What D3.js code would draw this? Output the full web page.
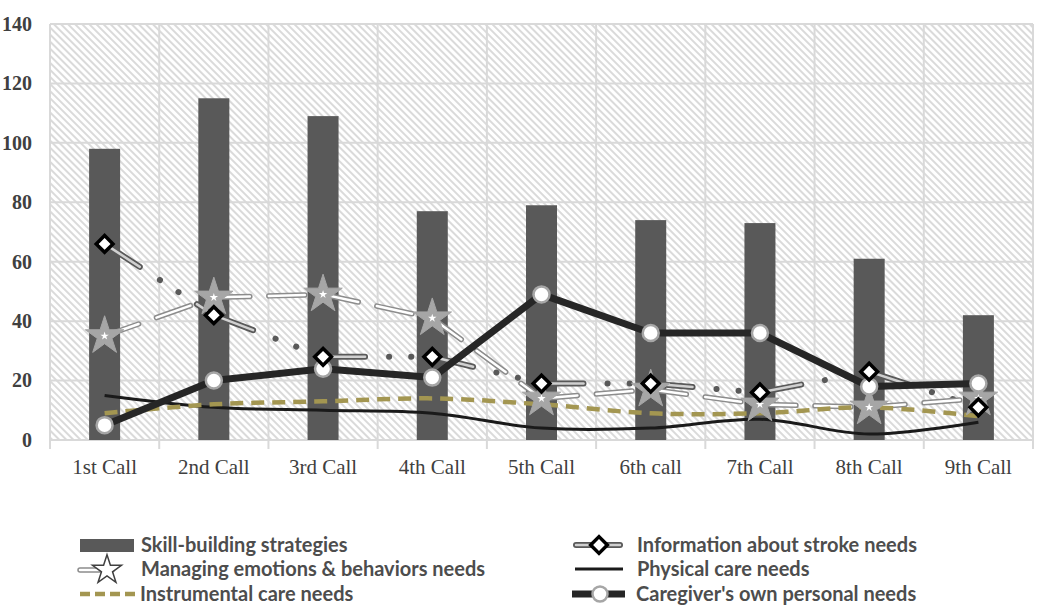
<!DOCTYPE html>
<html>
<head>
<meta charset="utf-8">
<script src="https://cdn.jsdelivr.net/npm/d3@7"></script>
<style>
  html, body { margin: 0; padding: 0; background: #fff; }
  svg { display: block; }
</style>
</head>
<body>
<svg id="chart" width="1050" height="610"></svg>
<script>
// ---------- DATA ----------
const categories = ["1st Call", "2nd Call", "3rd Call", "4th Call", "5th Call", "6th call", "7th Call", "8th Call", "9th Call"];
const skillBuilding = [98, 115, 109, 77, 79, 74, 73, 61, 42];
const infoStroke = [66, 42, 28, 28, 19, 19, 16, 23, 11];
const managingEmotions = [35, 48, 49, 41, 14, 17, 12, 11, 14];
const physicalCare = [15, 11, 10, 9, 4, 4, 7, 2, 6];
const instrumentalCare = [9, 12, 13, 14, 12, 9, 9, 11, 8];
const caregiverOwn = [5, 20, 24, 21, 49, 36, 36, 18, 19];
const yTicks = [0, 20, 40, 60, 80, 100, 120, 140];
const legendLabels = {
  skill: "Skill-building strategies",
  info: "Information about stroke needs",
  managing: "Managing emotions & behaviors needs",
  physical: "Physical care needs",
  instrumental: "Instrumental care needs",
  caregiver: "Caregiver's own personal needs"
};

// ---------- SETUP ----------
const svg = d3.select("#chart");
const plot = { left: 50, right: 1033, top: 24, bottom: 440 };

const x = d3.scaleBand().domain(categories).range([plot.left, plot.right]).paddingInner(0).paddingOuter(0);
const y = d3.scaleLinear().domain([0, 140]).range([plot.bottom, plot.top]);
const cx = c => x(c) + x.bandwidth() / 2;

const defs = svg.append("defs");
const pat = defs.append("pattern")
  .attr("id", "hatch").attr("patternUnits", "userSpaceOnUse")
  .attr("width", 5).attr("height", 5)
  .attr("patternTransform", "rotate(-45)");
pat.append("rect").attr("width", 5).attr("height", 5).attr("fill", "#ffffff");
pat.append("line").attr("x1", 1).attr("x2", 1).attr("y1", 0).attr("y2", 5)
  .attr("stroke", "#d6d6d6").attr("stroke-width", 1.8);

// plot background
svg.append("rect")
  .attr("x", plot.left).attr("y", plot.top)
  .attr("width", plot.right - plot.left).attr("height", plot.bottom - plot.top)
  .attr("fill", "url(#hatch)");

// horizontal gridlines
svg.append("g").selectAll("line").data(yTicks).join("line")
  .attr("x1", plot.left).attr("x2", plot.right)
  .attr("y1", d => y(d)).attr("y2", d => y(d))
  .attr("stroke", "#d9d9d9").attr("stroke-width", 2);

// vertical category separators
const bounds = categories.map(c => x(c)).concat([plot.right]);
svg.append("g").selectAll("line").data(bounds).join("line")
  .attr("x1", d => d).attr("x2", d => d)
  .attr("y1", plot.top).attr("y2", plot.bottom + 9)
  .attr("stroke", "#d9d9d9").attr("stroke-width", 2);

// y axis labels
const yAxis = d3.axisLeft(y).tickValues(yTicks).tickSize(0).tickPadding(0);
const gy = svg.append("g").attr("transform", `translate(${plot.left - 18},0)`).call(yAxis);
gy.select(".domain").remove();
gy.selectAll("text")
  .attr("font-family", "'Liberation Serif', 'Times New Roman', serif")
  .attr("font-size", 20).attr("font-weight", "bold").attr("fill", "#404040");

// x axis labels
const xAxis = d3.axisBottom(x).tickSize(0).tickPadding(0);
const gx = svg.append("g").attr("transform", `translate(0,${plot.bottom + 18})`).call(xAxis);
gx.select(".domain").remove();
gx.selectAll("text")
  .attr("font-family", "'Liberation Serif', 'Times New Roman', serif")
  .attr("font-size", 21).attr("fill", "#404040").attr("dy", "0.78em");

// bars
const barW = 31;
svg.append("g").selectAll("rect").data(skillBuilding).join("rect")
  .attr("x", (d, i) => cx(categories[i]) - barW / 2)
  .attr("width", barW)
  .attr("y", d => y(d))
  .attr("height", d => y(0) - y(d))
  .attr("fill", "#595959");

// helpers
const pts = arr => arr.map((v, i) => [cx(categories[i]), y(v)]);
const segs = arr => { const p = pts(arr); const out = []; for (let i = 0; i < p.length - 1; i++) out.push([p[i], p[i + 1]]); return out; };
const line = d3.line();
const smooth = d3.line().curve(d3.curveCatmullRom.alpha(0.5));

const lines = svg.append("g");

// Information about stroke needs: long dash dot dot, double gray
const infoSegs = segs(infoStroke);
lines.append("g").selectAll("path").data(infoSegs).join("path")
  .attr("d", d => line(d)).attr("fill", "none")
  .attr("stroke", "#595959").attr("stroke-width", 6).attr("stroke-linecap", "round")
  .attr("stroke-dasharray", "42 24 0.1 22 0.1 22");
lines.append("g").selectAll("path").data(infoSegs).join("path")
  .attr("d", d => line(d)).attr("fill", "none")
  .attr("stroke", "#d0d0d0").attr("stroke-width", 2.5).attr("stroke-linecap", "round")
  .attr("stroke-dasharray", "42 68.2");

// Managing emotions: long dash, double light gray
const manSegs = segs(managingEmotions);
lines.append("g").selectAll("path").data(manSegs).join("path")
  .attr("d", d => line(d)).attr("fill", "none")
  .attr("stroke", "#8c8c8c").attr("stroke-width", 5.5).attr("stroke-linecap", "round")
  .attr("stroke-dasharray", "36 19");
lines.append("g").selectAll("path").data(manSegs).join("path")
  .attr("d", d => line(d)).attr("fill", "none")
  .attr("stroke", "#ffffff").attr("stroke-width", 2.5).attr("stroke-linecap", "round")
  .attr("stroke-dasharray", "36 19");

// Physical care: thin black smooth
lines.append("path").attr("d", smooth(pts(physicalCare)))
  .attr("fill", "none").attr("stroke", "#1a1a1a").attr("stroke-width", 3);

// Instrumental care: olive dashed smooth
lines.append("path").attr("d", smooth(pts(instrumentalCare)))
  .attr("fill", "none").attr("stroke", "#a39651").attr("stroke-width", 4.5)
  .attr("stroke-dasharray", "13 8");

// Caregiver's own: thick dark
lines.append("path").attr("d", line(pts(caregiverOwn)))
  .attr("fill", "none").attr("stroke", "#262626").attr("stroke-width", 7)
  .attr("stroke-linejoin", "round");

// markers
const star = d3.symbol().type(d3.symbolStar);
const markers = svg.append("g");
const starG = markers.append("g").selectAll("g").data(pts(managingEmotions)).join("g")
  .attr("transform", d => `translate(${d[0]},${d[1]})`);
starG.append("path").attr("d", star.size(460)()).attr("fill", "#a6a6a6").attr("stroke", "#a6a6a6").attr("stroke-width", 1);
starG.append("path").attr("d", star.size(22)()).attr("fill", "#ffffff");

markers.append("g").selectAll("circle").data(pts(caregiverOwn)).join("circle")
  .attr("cx", d => d[0]).attr("cy", d => d[1]).attr("r", 8)
  .attr("fill", "#ffffff").attr("stroke", "#a6a6a6").attr("stroke-width", 2.5);

const diamond = d3.symbol().type(d3.symbolSquare).size(140);
markers.append("g").selectAll("path").data(pts(infoStroke)).join("path")
  .attr("d", diamond())
  .attr("transform", d => `translate(${d[0]},${d[1]}) rotate(45)`)
  .attr("fill", "#ffffff").attr("stroke", "#000000").attr("stroke-width", 3.5);

// ---------- LEGEND ----------
const leg = svg.append("g");
const legFont = "Lato, 'Open Sans', sans-serif";
const rows = [545, 569, 594];
const addText = (tx, ty, t) => leg.append("text").attr("x", tx).attr("y", ty).attr("dy", "0.35em")
  .attr("font-family", legFont).attr("font-size", 20).attr("font-weight", "bold")
  .attr("fill", "#4d4d4d").text(t);

// Skill
leg.append("rect").attr("x", 80).attr("y", rows[0] - 6).attr("width", 54).attr("height", 13).attr("fill", "#595959");
addText(141, rows[0], legendLabels.skill);
// Managing
leg.append("line").attr("x1", 80).attr("x2", 112).attr("y1", rows[1] + 1).attr("y2", rows[1] + 1)
  .attr("stroke", "#8c8c8c").attr("stroke-width", 5.5).attr("stroke-linecap", "round");
leg.append("line").attr("x1", 80).attr("x2", 112).attr("y1", rows[1] + 1).attr("y2", rows[1] + 1)
  .attr("stroke", "#ffffff").attr("stroke-width", 2.5).attr("stroke-linecap", "round");
leg.append("path").attr("d", star.size(260)()).attr("transform", `translate(107,${rows[1] + 1})`)
  .attr("fill", "#ffffff").attr("stroke", "#404040").attr("stroke-width", 1.5);
addText(141, rows[1], legendLabels.managing);
// Instrumental
leg.append("line").attr("x1", 80).attr("x2", 136).attr("y1", rows[2]).attr("y2", rows[2])
  .attr("stroke", "#a39651").attr("stroke-width", 4.5).attr("stroke-dasharray", "10 5");
addText(140, rows[2], legendLabels.instrumental);

// Info
leg.append("line").attr("x1", 576).attr("x2", 620).attr("y1", rows[0]).attr("y2", rows[0])
  .attr("stroke", "#595959").attr("stroke-width", 6).attr("stroke-linecap", "round");
leg.append("line").attr("x1", 576).attr("x2", 620).attr("y1", rows[0]).attr("y2", rows[0])
  .attr("stroke", "#d0d0d0").attr("stroke-width", 2.5).attr("stroke-linecap", "round");
leg.append("path").attr("d", diamond()).attr("transform", `translate(599,${rows[0]}) rotate(45)`)
  .attr("fill", "#ffffff").attr("stroke", "#000").attr("stroke-width", 3.5);
addText(637, rows[0], legendLabels.info);
// Physical
leg.append("line").attr("x1", 575).attr("x2", 623).attr("y1", rows[1]).attr("y2", rows[1])
  .attr("stroke", "#1a1a1a").attr("stroke-width", 3);
addText(637, rows[1], legendLabels.physical);
// Caregiver
leg.append("line").attr("x1", 572).attr("x2", 625).attr("y1", rows[2]).attr("y2", rows[2])
  .attr("stroke", "#262626").attr("stroke-width", 7);
leg.append("circle").attr("cx", 600).attr("cy", rows[2]).attr("r", 7.5)
  .attr("fill", "#fff").attr("stroke", "#a6a6a6").attr("stroke-width", 2.5);
addText(636, rows[2], legendLabels.caregiver);
</script>
</body>
</html>
